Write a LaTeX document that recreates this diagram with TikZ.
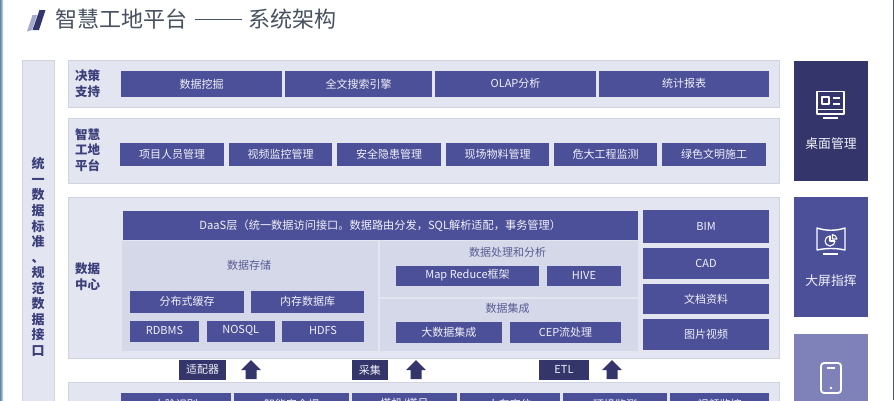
\documentclass[tikz,border=0pt]{standalone}
\usepackage{fontspec}
\setmainfont{Noto Sans CJK SC}
\definecolor{boxblue}{HTML}{4C5099}
\definecolor{navy}{HTML}{33356B}
\definecolor{midblue}{HTML}{7F82B8}
\definecolor{panel}{HTML}{E3E5F1}
\definecolor{panelline}{HTML}{D0D3E2}
\definecolor{inner}{HTML}{D5D8E8}
\definecolor{labelc}{HTML}{3B3F7A}
\definecolor{titlec}{HTML}{47515F}
\definecolor{edgeL}{HTML}{5F86AB}
\definecolor{edgeR}{HTML}{4A5568}
\tikzset{
  x=1pt,y=-1pt,
  panelbox/.style={draw=panelline,line width=1pt,fill=panel},
  innerbox/.style={fill=inner},
  bluebox/.style={fill=boxblue},
  txt/.style={font=\fontsize{11}{12}\selectfont,text=white!92!boxblue,inner sep=0pt},
  graytxt/.style={font=\fontsize{11}{12}\selectfont,text=boxblue!75!gray,inner sep=0pt},
  sidetxt/.style={font=\fontsize{12.8}{15.5}\selectfont,text=white!92!boxblue,inner sep=0pt},
  lab/.style={font=\bfseries\fontsize{12.5}{15.5}\selectfont,text=labelc,align=left,inner sep=0pt},
  icon/.style={draw=white,line width=1.8pt,line join=round},
}
\newcommand{\bx}[6][bluebox]{%
  \fill[#1] (#2,#3) rectangle (#4,#5);
  \node[txt] at ({(#2+#4)/2},{(#3+#5)/2-0.2}) {#6};}
\begin{document}
\begin{tikzpicture}
\useasboundingbox (0,0) rectangle (894,400);
\clip (0,0) rectangle (894,400);
\fill[white] (0,0) rectangle (894,400);
\fill[left color=edgeL,right color=edgeL!25] (0,0) rectangle (3,400);
\fill[edgeR] (892.5,0) rectangle (894,400);
% title
\fill[midblue!70] (32.5,15) -- (37,15) -- (32,30) -- (27,31.5) -- cycle;
\fill[navy] (39.5,10) -- (45.5,10) -- (39,30) -- (32.5,30) -- cycle;
\node[inner sep=0pt,anchor=west,text=titlec,font=\fontsize{22}{24}\selectfont] (title) at (55,19) {智慧工地平台};
\fill[titlec] (195,19.4) rectangle (242,20.4);
\node[inner sep=0pt,anchor=west,text=titlec,font=\fontsize{22}{24}\selectfont] (title2) at (248,19) {系统架构};
% panels
\draw[panelbox] (22.5,60.5) rectangle (54,410);
\draw[panelbox] (68,60.5) rectangle (779,107);
\draw[panelbox] (68,118) rectangle (779,183);
\draw[panelbox] (68,197.5) rectangle (779,358);
\draw[panelbox] (68,382.5) rectangle (779,410);
% side text
\node[lab,align=center,font=\bfseries\fontsize{13}{15.55}\selectfont] (side) at (38,257) {统\\一\\数\\据\\标\\准\\、\\规\\范\\数\\据\\接\\口};
\node[lab,anchor=center] (l1) at (87.5,83.5) {决策\\支持};
\node[lab,anchor=center] (l2) at (87.5,150) {智慧\\工地\\平台};
\node[lab,anchor=center] (l3) at (87.5,276.5) {数据\\中心};
% row 1
\bx{121}{71}{282}{97}{数据挖掘}
\bx{285}{71}{432}{97}{全文搜索引擎}
\bx{435}{71}{596}{97}{OLAP分析}
\bx{599}{71}{769}{97}{统计报表}
% row 2
\bx{120}{143}{224}{166}{项目人员管理}
\bx{229}{143}{332}{166}{视频监控管理}
\bx{337}{143}{441}{166}{安全隐患管理}
\bx{446}{143}{549}{166}{现场物料管理}
\bx{554}{143}{657}{166}{危大工程监测}
\bx{662}{143}{766}{166}{绿色文明施工}
% data centre
\fill[innerbox] (122,241) rectangle (378,351);
\fill[innerbox] (380,241) rectangle (638,297);
\fill[innerbox] (380,298.5) rectangle (638,351);
\bx{122.5}{211}{638}{240}{\fontsize{11.2}{12}\selectfont DaaS层（统一数据访问接口。数据路由分发，SQL解析适配，事务管理）}
\node[graytxt] (n1) at (249,265.5) {数据存储};
\node[graytxt] (n2) at (507.5,252.5) {数据处理和分析};
\node[graytxt] (n3) at (507.5,308) {数据集成};
\bx{130}{290.5}{244}{312.5}{分布式缓存}
\bx{251}{290.5}{364}{312.5}{内存数据库}
\bx{130}{320.5}{199}{341.5}{RDBMS}
\bx{206.5}{320.5}{275}{341.5}{NOSQL}
\bx{282}{320.5}{364}{341.5}{HDFS}
\bx{396}{265.5}{539}{286}{Map Reduce框架}
\bx{547}{265.5}{621}{286}{HIVE}
\bx{396}{322}{501.5}{343}{大数据集成}
\bx{510}{322}{621}{343}{CEP流处理}
\bx{643}{209.5}{769}{243}{BIM}
\bx{643}{247.5}{769}{279}{CAD}
\bx{643}{284}{769}{314}{文档资料}
\bx{643}{319}{769}{350}{图片视频}
% adapters
\bx[fill=navy]{179}{360}{226}{380}{适配器}
\bx[fill=navy]{351.5}{360}{388}{380}{采集}
\bx[fill=navy]{539}{360}{589}{380}{ETL}
\foreach \c in {251,416,612}{
  \fill[navy] (\c,360) -- (\c+10,370) -- (\c+5.5,370) -- (\c+5.5,379) -- (\c-5.5,379) -- (\c-5.5,370) -- (\c-10,370) -- cycle;
}
% bottom row
\bx{120.5}{393}{231}{416}{人脸识别}
\bx{234}{393}{349}{416}{智能安全帽}
\bx{352}{393}{457}{416}{塔机/塔吊}
\bx{459.5}{393}{560}{416}{人车定位}
\bx{563}{393}{667}{416}{环境监测}
\bx{670}{393}{769}{416}{视频监控}
% right column
\fill[navy] (794,61) rectangle (868,181);
\fill[boxblue] (794,197) rectangle (868,317);
\fill[midblue] (794,334) rectangle (868,410);
\node[sidetxt] (s1) at (831,143.5) {桌面管理};
\node[sidetxt] (s2) at (831,281) {大屏指挥};
% desktop icon
\draw[icon] (817,91.5) rectangle (844,114);
\draw[icon,line width=1.2pt] (817,109.5) -- (844,109.5);
\draw[icon,line width=1.2pt] (823,118) -- (838,118);
\draw[icon,line width=1.3pt] (822,97) rectangle (829,104);
\draw[icon,line width=2pt] (833,97.5) -- (840,97.5) (833,103.5) -- (840,103.5);
% big screen icon
\draw[icon,line width=1.4pt] (817,228) .. controls (826,231) and (836,231) .. (845,228) -- (845,250) .. controls (836,248) and (826,248) .. (817,250) -- cycle;
\draw[icon,line width=1.2pt] (823,254) -- (838,254);
\draw[icon,line width=1.1pt] (830,241) circle (5);
\fill[boxblue] (830.5,234.5) rectangle (836.5,240.5);
\draw[icon,line width=1.1pt] (830,236) -- (830,241) -- (835,241);
\draw[icon,line width=1.1pt] (832.5,234.5) .. controls (835,235) and (836.5,236.5) .. (837,239) -- (832.5,239) -- cycle;
% phone icon
\draw[icon,rounded corners=3pt] (821,363) rectangle (841,393);
\draw[icon,line width=1.4pt] (827,368) -- (835,368);
\fill[white] (831,388) circle (1.4);
\end{tikzpicture}
\end{document}
